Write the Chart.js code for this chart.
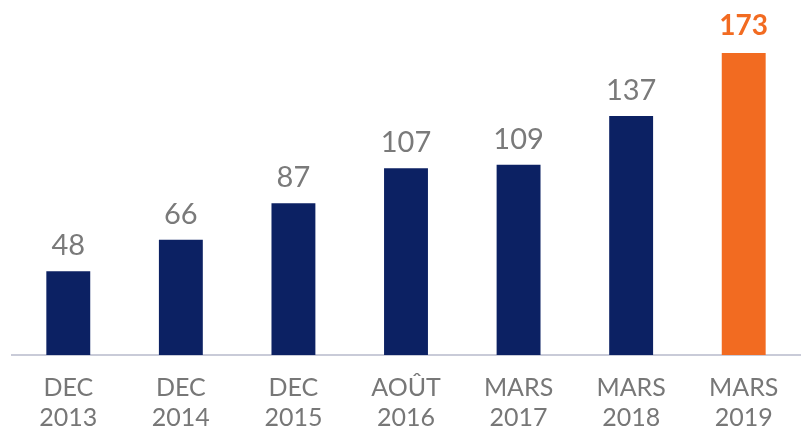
<!DOCTYPE html>
<html><head><meta charset="utf-8">
<script src="https://cdn.jsdelivr.net/npm/chart.js@4/dist/chart.umd.min.js"></script>
<style>html,body{margin:0;padding:0;background:#fff}#wrap{width:802px;height:431px}</style>
</head><body><div id="wrap"><canvas id="c"></canvas></div>
<script>
const categories = [['DEC','2013'],['DEC','2014'],['DEC','2015'],['AOÛT','2016'],['MARS','2017'],['MARS','2018'],['MARS','2019']];
const values = [48, 66, 87, 107, 109, 137, 173];
const barColors = ['#0c2163','#0c2163','#0c2163','#0c2163','#0c2163','#0c2163','#f26b21'];
const labelColors = ['#7a7a7a','#7a7a7a','#7a7a7a','#7a7a7a','#7a7a7a','#7a7a7a','#f26b21'];

const valueLabels = {
  id: 'valueLabels',
  afterDatasetsDraw(chart) {
    const ctx = chart.ctx;
    const meta = chart.getDatasetMeta(0);
    ctx.save();
    ctx.textAlign = 'center';
    ctx.textBaseline = 'alphabetic';
    meta.data.forEach((bar, i) => {
      const last = i === values.length - 1;
      ctx.font = (last ? 'bold 28px' : '29px') + ' Lato';
      ctx.fillStyle = labelColors[i];
      ctx.fillText(String(values[i]), bar.x, bar.y - (last ? 18 : 16));
    });
    ctx.restore();
  }
};

new Chart(document.getElementById('c'), {
  type: 'bar',
  data: {
    labels: categories,
    datasets: [{ data: values, backgroundColor: barColors, barPercentage: 0.78, categoryPercentage: 0.5 }]
  },
  options: {
    responsive: true,
    maintainAspectRatio: false,
    animation: false,
    layout: { padding: { top: 6, left: 12, right: 2, bottom: 0 } },
    plugins: { legend: { display: false }, tooltip: { enabled: false } },
    scales: {
      y: { display: false, min: 0, max: 200 },
      x: {
        grid: { display: false, drawTicks: false },
        border: { display: true, color: '#c9cbd8', width: 2 },
        ticks: { color: '#777777', font: { family: 'Lato', size: 25 }, padding: 18, maxRotation: 0, autoSkip: false },
        afterFit(scale) { scale.height = 76; }
      }
    }
  },
  plugins: [valueLabels]
});
</script></body></html>
